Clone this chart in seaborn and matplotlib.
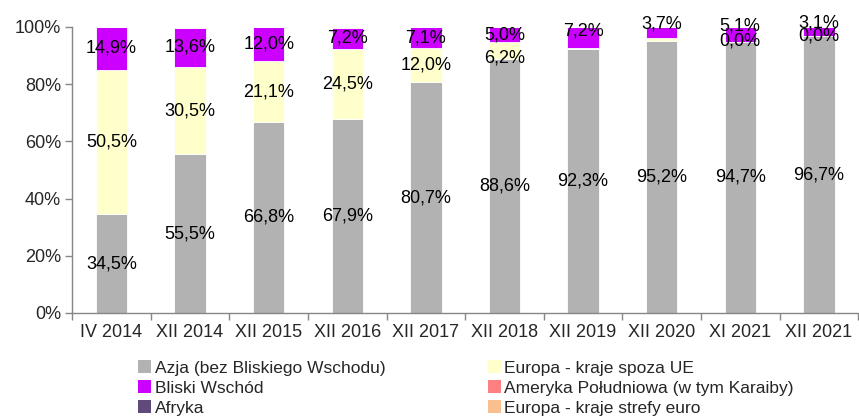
import numpy as np
import pandas as pd
import matplotlib
matplotlib.use("Agg")
import matplotlib.pyplot as plt
from matplotlib.patches import Patch
import seaborn as sns

# data (share of total, %)
periods = ["IV 2014", "XII 2014", "XII 2015", "XII 2016", "XII 2017",
           "XII 2018", "XII 2019", "XII 2020", "XI 2021", "XII 2021"]
azja = [34.5, 55.5, 66.8, 67.9, 80.7, 88.6, 92.3, 95.2, 94.7, 96.7]
europa_spoza = [50.5, 30.5, 21.1, 24.5, 12.0, 6.2, 0.3, 1.0, 0.0, 0.0]
bliski = [14.9, 13.6, 12.0, 7.2, 7.1, 5.0, 7.2, 3.7, 5.1, 3.1]
ameryka = [0.1, 0.4, 0.1, 0.4, 0.2, 0.2, 0.2, 0.1, 0.2, 0.2]
afryka = [0.0] * 10
europa_euro = [0.0] * 10

series_names = ["Azja (bez Bliskiego Wschodu)", "Europa - kraje spoza UE",
                "Bliski Wschód", "Ameryka Południowa (w tym Karaiby)",
                "Afryka", "Europa - kraje strefy euro"]
series_vals = [azja, europa_spoza, bliski, ameryka, afryka, europa_euro]
colors = ["#B2B2B2", "#FFFFCC", "#CC00FF", "#FF8080", "#604A7B", "#FABF8F"]

# which labels are shown, and small nudges (pt) Excel used for crowded tops
show_label = [
    [True] * 10,
    [True] * 6 + [False, False, True, True],
    [True] * 10,
]
label_nudge = [
    [0] * 10,
    [0, 0, 0, 0, 0, -5, 0, 0, 1, 0],
    [0, 0, 0, 0, 0, 0, 5, 6, 6, 6],
]

sns.set_style("white")
plt.rcParams["font.family"] = ["Liberation Sans", "DejaVu Sans"]
plt.rcParams["font.size"] = 13

fig, ax = plt.subplots(figsize=(8.59, 4.19), dpi=100)
fig.subplots_adjust(left=0.084, right=0.999, top=0.936, bottom=0.253)

bottom = np.zeros(len(periods))
for name, vals, col in zip(series_names, series_vals, colors):
    sns.barplot(x=periods, y=vals, bottom=bottom, color=col, saturation=1,
                width=0.4, edgecolor="white", linewidth=0.6, ax=ax)
    bottom = bottom + np.array(vals)

# data labels (centered in the segment)
bottom = np.zeros(len(periods))
for s in range(3):
    vals = np.array(series_vals[s])
    for i, v in enumerate(vals):
        if show_label[s][i]:
            ax.annotate(f"{v:.1f}%".replace(".", ","),
                        xy=(i, bottom[i] + v / 2),
                        xytext=(0, label_nudge[s][i]), textcoords="offset points",
                        ha="center", va="center", fontsize=13, color="black",
                        annotation_clip=False)
    bottom = bottom + vals

ax.set_xlim(-0.5, len(periods) - 0.5)
ax.set_ylim(0, 100)
ax.set_yticks(np.arange(0, 101, 20))
ax.set_yticklabels([f"{t}%" for t in range(0, 101, 20)])

ax.set_xticks(np.arange(len(periods)))
ax.set_xticklabels(periods)
ax.set_xticks(np.arange(len(periods) + 1) - 0.5, minor=True)
ax.tick_params(axis="x", which="major", length=0, pad=8, labelsize=13)
ax.tick_params(axis="x", which="minor", length=5, width=1, color="#868686",
               direction="out", bottom=True)
ax.tick_params(axis="y", length=5, width=1, color="#868686", direction="out",
               left=True, labelsize=13, pad=3)

for side in ["top", "right"]:
    ax.spines[side].set_visible(False)
for side in ["left", "bottom"]:
    ax.spines[side].set_color("#868686")
    ax.spines[side].set_linewidth(1)
ax.set_xlabel("")
ax.set_ylabel("")

# legend, two columns, row-major order as in the original
handles = [Patch(facecolor=c, edgecolor="none") for c in colors]
order = [0, 2, 4, 1, 3, 5]
ax.legend([handles[k] for k in order], [series_names[k] for k in order],
          ncol=2, loc="upper left", bbox_to_anchor=(0.084, -0.165),
          frameon=False, fontsize=12.5, handlelength=0.75, handleheight=0.75,
          handletextpad=0.2, labelspacing=0.27, columnspacing=5.9,
          borderaxespad=0, borderpad=0)

fig.savefig("out.png", dpi=100)
